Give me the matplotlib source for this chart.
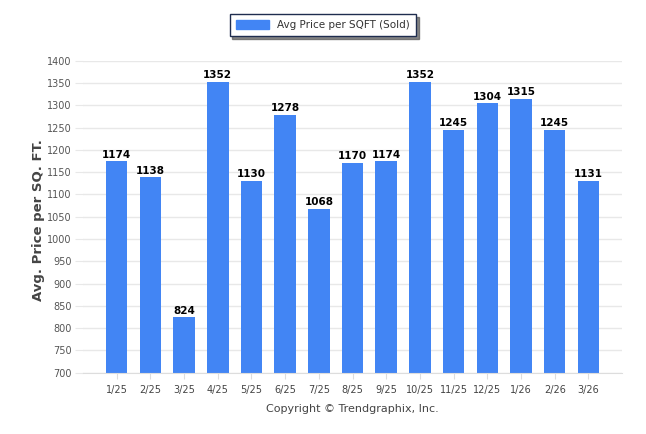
import matplotlib
matplotlib.use("Agg")
import matplotlib.pyplot as plt
from matplotlib.patches import Patch

months = ["1/25", "2/25", "3/25", "4/25", "5/25", "6/25", "7/25", "8/25",
          "9/25", "10/25", "11/25", "12/25", "1/26", "2/26", "3/26"]
price_sqft = [1174, 1138, 824, 1352, 1130, 1278, 1068, 1170,
              1174, 1352, 1245, 1304, 1315, 1245, 1131]
yticks = list(range(700, 1401, 50))

bar_color = "#4285f4"
grid_color = "#e8e8e8"

fig = plt.figure(figsize=(6.46, 4.34), dpi=100)
ax = fig.add_axes([0.1285, 0.1412, 0.8345, 0.719])

x = list(range(len(months)))
bars = ax.bar(x, price_sqft, width=0.64, color=bar_color, zorder=2)

for xi, v in zip(x, price_sqft):
    ax.text(xi, v + 4, str(v), ha="center", va="bottom", fontsize=7.5,
            fontweight="bold", color="black", zorder=3)

ax.set_xlim(-1, len(months))
ax.set_ylim(700, 1400)
ax.set_yticks(yticks)
ax.set_xticks(x)
ax.set_xticklabels(months)
ax.yaxis.grid(True, color=grid_color, linewidth=1, zorder=0)

for s in ["top", "right", "left"]:
    ax.spines[s].set_visible(False)
ax.spines["bottom"].set_color("#dddddd")
ax.tick_params(axis="y", length=6, color=grid_color, labelsize=7, labelcolor="#555555", pad=2)
ax.tick_params(axis="x", length=4, color="#dddddd", labelsize=7, labelcolor="#444444", pad=5)

fig.text(0.059, 0.493, "Avg. Price per SQ. FT.", rotation=90, ha="center", va="center",
         fontsize=9.5, fontweight="bold", color="#444444")
fig.text(0.545, 0.057, "Copyright \u00a9 Trendgraphix, Inc.", ha="center", va="center",
         fontsize=8, color="#444444")

leg = fig.legend(handles=[Patch(color=bar_color, label="Avg Price per SQFT (Sold)")],
                 loc="center", bbox_to_anchor=(0.5, 0.942), fontsize=7.5,
                 frameon=True, fancybox=False,
                 shadow={"ox": 2, "oy": -2, "color": "#555555", "alpha": 0.7},
                 handlelength=3.2, handleheight=0.9, borderpad=0.6)
leg.get_frame().set_edgecolor("#1f2d4f")
leg.get_frame().set_linewidth(1)
for t in leg.get_texts():
    t.set_color("#333333")

fig.savefig("out.png", dpi=100)
